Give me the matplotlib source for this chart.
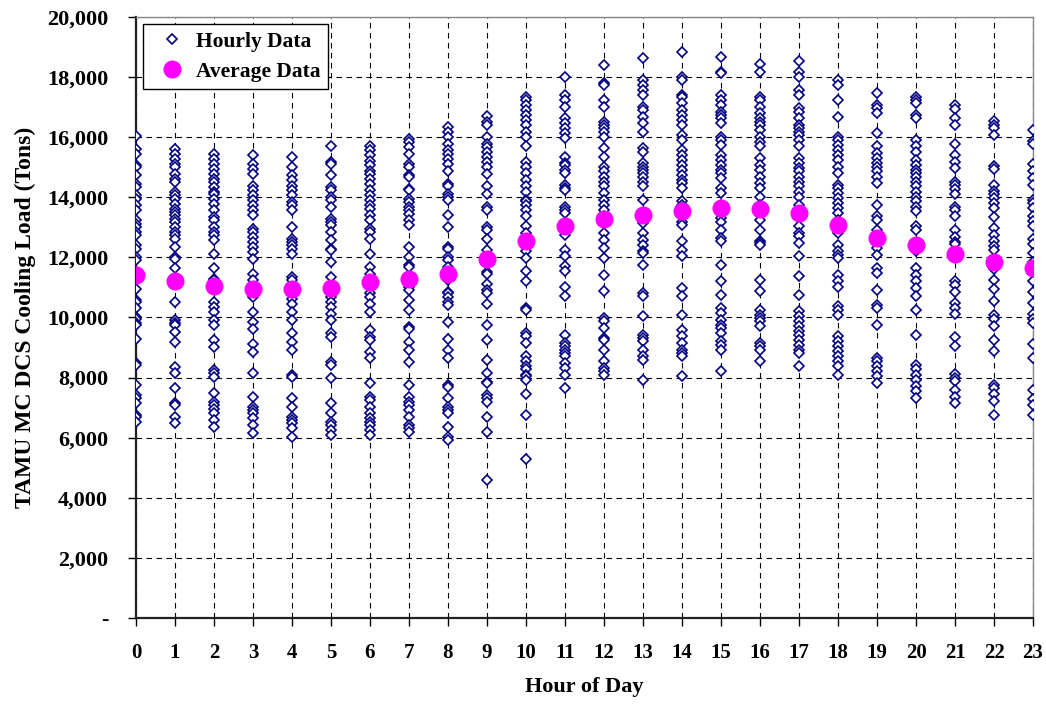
import matplotlib
matplotlib.use("Agg")
import matplotlib.pyplot as plt
from matplotlib.ticker import FuncFormatter, MultipleLocator

plt.rcParams['font.family'] = ['Liberation Serif', 'DejaVu Serif']
plt.rcParams['font.weight'] = 'bold'

# hourly cooling load readings, thousands of tons
hour_00 = [16.03, 15.6, 15.45, 15.06, 15.0, 14.73, 14.45, 14.34, 14.06, 13.95, 13.73, 13.56, 13.23, 13.12,
           13.0, 12.84, 12.73, 12.4, 12.29, 12.01, 11.9, 10.96, 10.57, 10.52, 10.3, 10.02, 9.96, 9.8, 9.74,
           9.3, 8.47, 8.41, 7.75, 7.42, 7.31, 7.14, 6.75, 6.7, 6.53]
hour_01 = [15.61, 15.45, 15.28, 15.11, 15.0, 14.78, 14.62, 14.5, 14.17, 14.06, 13.95, 13.79, 13.62, 13.51,
           13.4, 13.29, 13.18, 13.0, 12.84, 12.73, 12.62, 12.35, 12.01, 11.96, 11.63, 10.52, 9.91, 9.8, 9.74,
           9.52, 9.19, 8.36, 8.14, 7.64, 7.14, 7.09, 6.7, 6.48]
hour_02 = [15.45, 15.28, 15.11, 14.95, 14.78, 14.62, 14.5, 14.34, 14.17, 14.12, 13.95, 13.79, 13.56, 13.34,
           13.23, 13.0, 12.84, 12.73, 12.57, 12.12, 11.63, 11.29, 11.24, 11.02, 10.52, 10.35, 10.19, 9.91,
           9.74, 9.24, 9.02, 8.25, 8.14, 8.03, 7.47, 7.2, 7.09, 6.97, 6.81, 6.59, 6.37]
hour_03 = [15.39, 15.11, 14.95, 14.78, 14.39, 14.23, 14.06, 13.9, 13.73, 13.56, 13.4, 12.95, 12.84, 12.68,
           12.51, 12.35, 12.18, 11.96, 11.46, 11.24, 11.02, 10.91, 10.68, 10.19, 9.85, 9.63, 9.13, 8.86,
           8.14, 7.36, 7.03, 6.92, 6.81, 6.64, 6.42, 6.14]
hour_04 = [15.34, 15.0, 14.73, 14.56, 14.39, 14.23, 14.06, 13.84, 13.73, 13.56, 13.0, 12.62, 12.51, 12.4,
           12.29, 12.12, 11.35, 11.24, 11.02, 10.8, 10.63, 10.46, 10.19, 9.91, 9.47, 9.19, 8.91, 8.08, 8.03,
           7.31, 7.03, 6.7, 6.59, 6.48, 6.31, 6.03]
hour_05 = [15.72, 15.17, 15.11, 14.73, 14.34, 14.23, 14.01, 13.9, 13.67, 13.29, 13.18, 13.07, 12.84, 12.57,
           12.29, 12.23, 11.85, 11.35, 10.91, 10.68, 10.52, 10.35, 10.13, 9.91, 9.47, 9.36, 8.53, 8.41, 7.97,
           7.14, 6.81, 6.53, 6.42, 6.25, 6.09]
hour_06 = [15.72, 15.56, 15.39, 15.22, 15.06, 14.89, 14.78, 14.62, 14.45, 14.23, 14.06, 13.9, 13.73, 13.62,
           13.4, 13.23, 12.95, 12.84, 12.62, 12.12, 11.68, 11.46, 11.13, 10.8, 10.68, 10.46, 10.19, 9.58,
           9.36, 9.24, 8.86, 8.64, 7.81, 7.36, 7.25, 7.03, 6.81, 6.64, 6.53, 6.42, 6.25, 6.09]
hour_07 = [15.94, 15.83, 15.67, 15.45, 15.11, 15.0, 14.73, 14.67, 14.28, 14.23, 13.95, 13.84, 13.67, 13.56,
           13.45, 13.23, 13.07, 12.35, 12.01, 11.74, 11.68, 11.35, 11.02, 10.91, 10.57, 10.24, 9.69, 9.63,
           9.19, 8.91, 8.53, 7.75, 7.36, 7.2, 7.09, 6.92, 6.7, 6.42, 6.31, 6.2]
hour_08 = [16.33, 16.17, 16.0, 15.78, 15.56, 15.45, 15.28, 15.11, 14.89, 14.45, 14.39, 14.12, 14.01, 13.9,
           13.4, 13.0, 12.35, 12.29, 12.01, 11.9, 11.68, 11.24, 10.85, 10.8, 10.68, 10.52, 10.41, 9.85, 9.3,
           8.91, 8.64, 7.75, 7.69, 7.31, 7.03, 6.92, 6.81, 6.37, 6.03, 5.92]
hour_09 = [16.7, 16.5, 16.39, 16.0, 15.78, 15.67, 15.5, 15.34, 15.17, 15.0, 14.78, 14.39, 14.12, 13.67,
           13.56, 13.0, 12.9, 12.62, 12.23, 11.52, 11.46, 11.13, 10.91, 10.8, 10.46, 9.74, 9.24, 8.58, 8.14,
           7.86, 7.81, 7.42, 7.31, 7.2, 6.7, 6.2, 4.59]
hour_10 = [17.35, 17.24, 17.07, 16.9, 16.74, 16.57, 16.41, 16.18, 16.02, 15.69, 15.19, 15.02, 14.8, 14.58,
           14.36, 14.19, 13.91, 13.86, 13.75, 13.58, 13.36, 13.03, 12.81, 12.2, 11.98, 11.53, 11.2, 10.31,
           10.26, 9.48, 9.37, 9.15, 8.71, 8.54, 8.38, 8.27, 8.1, 8.04, 7.93, 7.44, 6.77, 5.28]
hour_11 = [18.01, 17.4, 17.24, 17.01, 16.63, 16.46, 16.29, 16.13, 15.96, 15.35, 15.13, 15.08, 14.91, 14.8,
           14.41, 14.3, 14.25, 13.69, 13.58, 13.47, 12.75, 12.25, 12.03, 11.7, 11.53, 11.03, 10.7, 9.43,
           9.15, 9.04, 8.93, 8.82, 8.71, 8.49, 8.32, 8.1, 7.66]
hour_12 = [18.4, 17.79, 17.73, 17.24, 17.01, 16.52, 16.41, 16.29, 16.18, 16.02, 15.63, 15.35, 15.02, 14.86,
           14.69, 14.52, 14.36, 14.14, 13.91, 13.75, 13.58, 13.36, 13.14, 12.81, 12.58, 12.31, 11.98, 11.42,
           10.87, 9.98, 9.87, 9.65, 9.32, 9.26, 8.93, 8.54, 8.32, 8.21, 8.1]
hour_13 = [18.65, 17.9, 17.73, 17.57, 17.4, 17.01, 16.9, 16.68, 16.46, 16.18, 15.63, 15.52, 15.13, 15.02,
           14.91, 14.8, 14.69, 14.52, 14.36, 13.91, 13.47, 13.14, 12.81, 12.58, 12.42, 12.2, 12.14, 11.75,
           10.81, 10.7, 10.04, 9.43, 9.32, 9.21, 8.93, 8.71, 8.6, 7.93]
hour_14 = [18.84, 18.01, 17.9, 17.4, 17.35, 17.13, 16.9, 16.74, 16.57, 16.41, 16.07, 15.91, 15.57, 15.41,
           15.24, 15.08, 14.91, 14.74, 14.58, 14.47, 14.3, 13.86, 13.75, 13.64, 13.19, 13.08, 12.53, 12.25,
           12.03, 10.98, 10.7, 10.09, 9.59, 9.37, 9.15, 8.93, 8.82, 8.71, 8.04]
hour_15 = [18.68, 18.18, 18.12, 17.4, 17.24, 17.07, 16.85, 16.74, 16.63, 16.46, 16.02, 15.91, 15.74, 15.41,
           15.24, 15.08, 14.91, 14.8, 14.63, 14.3, 14.14, 13.75, 13.3, 13.19, 12.92, 12.64, 12.53, 11.75,
           11.2, 10.76, 10.31, 10.15, 9.93, 9.76, 9.65, 9.48, 9.21, 9.1, 8.93, 8.21]
hour_16 = [18.45, 18.18, 17.35, 17.24, 17.01, 16.79, 16.63, 16.52, 16.41, 16.24, 16.02, 15.85, 15.69, 15.3,
           15.08, 14.91, 14.69, 14.47, 14.3, 14.02, 13.75, 13.25, 12.92, 12.53, 12.47, 12.42, 11.26, 10.87,
           10.26, 10.09, 9.98, 9.87, 9.71, 9.15, 9.04, 8.93, 8.54]
hour_17 = [18.53, 18.18, 18.01, 17.57, 17.4, 16.96, 16.85, 16.63, 16.41, 16.29, 16.18, 16.07, 15.91, 15.69,
           15.3, 15.13, 14.97, 14.86, 14.69, 14.52, 14.36, 14.19, 14.02, 13.75, 13.36, 13.03, 12.81, 12.7,
           12.47, 12.03, 11.37, 10.76, 10.2, 10.04, 9.87, 9.71, 9.54, 9.43, 9.26, 9.1, 8.93, 8.82, 8.38]
hour_18 = [17.9, 17.73, 17.24, 16.68, 16.02, 15.91, 15.74, 15.57, 15.41, 15.24, 15.02, 14.8, 14.41, 14.3,
           14.14, 13.97, 13.8, 13.64, 13.47, 13.25, 12.81, 12.42, 12.2, 12.09, 11.98, 11.42, 11.2, 11.03,
           10.37, 10.26, 10.09, 9.37, 9.21, 9.04, 8.87, 8.71, 8.54, 8.38, 8.1]
hour_19 = [17.48, 17.07, 16.96, 16.79, 16.15, 15.69, 15.46, 15.3, 15.13, 15.02, 14.86, 14.69, 14.47, 13.75,
           13.36, 13.25, 12.92, 12.58, 12.31, 12.09, 11.64, 11.48, 10.92, 10.43, 10.31, 9.76, 8.65, 8.54,
           8.38, 8.21, 8.04, 7.82]
hour_20 = [17.35, 17.24, 17.13, 16.74, 16.63, 15.91, 15.69, 15.52, 15.24, 15.08, 14.91, 14.8, 14.69, 14.52,
           14.36, 14.19, 14.02, 13.86, 13.69, 13.53, 13.03, 12.92, 12.2, 11.64, 11.42, 11.2, 10.98, 10.7,
           10.26, 9.43, 8.43, 8.27, 8.1, 7.93, 7.71, 7.55, 7.33]
hour_21 = [17.07, 16.95, 16.65, 16.42, 15.76, 15.41, 15.17, 14.99, 14.52, 14.4, 14.28, 14.1, 13.69, 13.57,
           13.39, 12.92, 12.68, 12.5, 12.44, 11.2, 11.08, 10.84, 10.48, 10.31, 10.13, 9.36, 9.06, 8.11, 7.99,
           7.87, 7.58, 7.34, 7.16]
hour_22 = [16.53, 16.42, 16.3, 16.06, 15.05, 14.93, 14.4, 14.22, 14.1, 13.98, 13.81, 13.63, 13.33, 12.98,
           12.74, 12.56, 12.38, 12.26, 11.61, 11.26, 10.96, 10.54, 10.07, 9.95, 9.71, 9.24, 8.88, 7.76, 7.64,
           7.46, 7.22, 6.75]
hour_23 = [16.24, 15.88, 15.76, 15.11, 14.87, 14.64, 14.4, 13.92, 13.81, 13.63, 13.39, 13.21, 13.03, 12.62,
           12.44, 12.14, 11.85, 11.61, 11.2, 10.84, 10.48, 10.13, 9.95, 9.83, 9.12, 8.65, 7.58, 7.28, 7.1,
           6.75]

hours = list(range(24))
hourly = [hour_00, hour_01, hour_02, hour_03, hour_04, hour_05, hour_06, hour_07,
          hour_08, hour_09, hour_10, hour_11, hour_12, hour_13, hour_14, hour_15,
          hour_16, hour_17, hour_18, hour_19, hour_20, hour_21, hour_22, hour_23]
average = [11.40, 11.22, 11.04, 10.96, 10.96, 10.98, 11.18, 11.29, 11.44, 11.94, 12.56, 13.03,
           13.27, 13.42, 13.55, 13.63, 13.60, 13.47, 13.07, 12.66, 12.42, 12.12, 11.85, 11.65]

fig = plt.figure(figsize=(10.46, 7.04), dpi=100)
ax = fig.add_axes([0.130, 0.1222, 0.8576, 0.8537])

xs, ys = [], []
for h, vals in zip(hours, hourly):
    xs += [h] * len(vals)
    ys += [v * 1000 for v in vals]

ax.plot(xs, ys, linestyle='none', marker='D', markersize=4.8, markerfacecolor='white',
        markeredgecolor='#000080', markeredgewidth=1.2, label='Hourly Data', zorder=3)
ax.plot(hours, [a * 1000 for a in average], linestyle='none', marker='o', markersize=12,
        color='#FF00FF', label='Average Data', zorder=4)

ax.set_xlim(0, 23)
ax.set_ylim(0, 20000)
ax.xaxis.set_major_locator(MultipleLocator(1))
ax.yaxis.set_major_locator(MultipleLocator(2000))
ax.yaxis.set_major_formatter(FuncFormatter(lambda v, p: '-' if v == 0 else f'{int(v):,}'))

ax.grid(True, color='black', linestyle=(0, (5, 4)), linewidth=0.8)
ax.set_axisbelow(True)

for side in ['top', 'right']:
    ax.spines[side].set_color('#888888')
    ax.spines[side].set_linewidth(1.0)
for side in ['left', 'bottom']:
    ax.spines[side].set_color('#222222')
    ax.spines[side].set_linewidth(1.6)

ax.tick_params(axis='both', direction='out', length=6, width=1)
ax.tick_params(axis='x', pad=12, labelsize=15)
ax.tick_params(axis='y', pad=14, labelsize=16)
for lbl in ax.get_xticklabels() + ax.get_yticklabels():
    lbl.set_fontweight('bold')

ax.set_xlabel('Hour of Day', fontsize=16, fontweight='bold', labelpad=10)
ax.set_ylabel('TAMU MC DCS Cooling Load (Tons)', fontsize=17, fontweight='bold', labelpad=8)

leg = ax.legend(loc='upper left', bbox_to_anchor=(0.008, 0.988), fancybox=False, framealpha=1,
                edgecolor='black', prop={'weight': 'bold', 'size': 15.5}, handletextpad=0.1,
                borderpad=0.35, labelspacing=0.45, handlelength=2.0, borderaxespad=0)
leg.get_frame().set_linewidth(1.0)

fig.savefig('out.png', dpi=100)
